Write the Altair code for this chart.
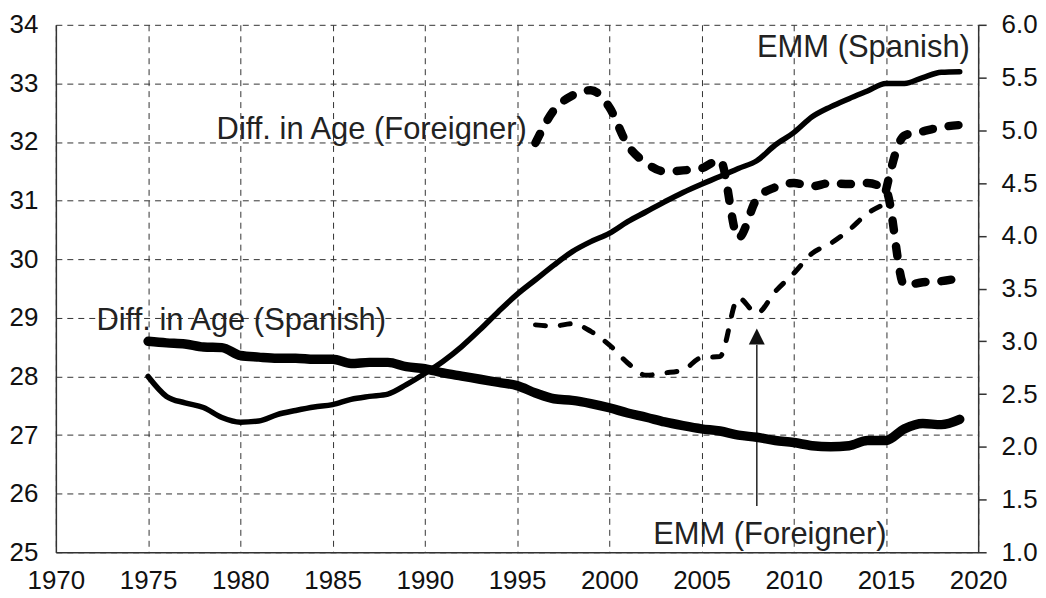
import altair as alt
import pandas as pd

# ---------------- data ----------------
years_sp = list(range(1975, 2020))
emm_spanish = [28.00, 27.66, 27.55, 27.47, 27.30, 27.22, 27.24, 27.35, 27.42, 27.48,
               27.52, 27.61, 27.66, 27.70, 27.86, 28.05, 28.26, 28.51, 28.80, 29.11,
               29.40, 29.65, 29.90, 30.13, 30.30, 30.44, 30.64, 30.81, 30.98, 31.14,
               31.28, 31.41, 31.55, 31.68, 31.95, 32.16, 32.43, 32.60, 32.74, 32.87,
               33.00, 33.00, 33.10, 33.19, 33.20]
diff_spanish = [3.00, 2.985, 2.975, 2.945, 2.94, 2.865, 2.85, 2.84, 2.84, 2.83,
                2.83, 2.79, 2.80, 2.80, 2.76, 2.74, 2.70, 2.67, 2.64, 2.61,
                2.58, 2.51, 2.455, 2.44, 2.41, 2.37, 2.32, 2.28, 2.235, 2.20,
                2.17, 2.15, 2.11, 2.09, 2.06, 2.04, 2.01, 2.00, 2.01, 2.06,
                2.06, 2.17, 2.22, 2.21, 2.26]

years_fo = list(range(1996, 2016))
emm_foreigner = [28.88, 28.86, 28.90, 28.77, 28.54, 28.23, 28.02, 28.06, 28.11, 28.32,
                 28.34, 29.34, 29.08, 29.45, 29.76, 30.10, 30.27, 30.50, 30.78, 30.95]

years_dfo = list(range(1996, 2020))
diff_foreigner = [4.88, 5.19, 5.33, 5.38, 5.22, 4.86, 4.69, 4.61, 4.62, 4.64,
                  4.72, 3.98, 4.35, 4.46, 4.50, 4.47, 4.50, 4.49, 4.50, 4.43,
                  3.53, 3.56, 3.57, 3.60]
years_dfo_b = [2015, 2016, 2017, 2018, 2019]
diff_foreigner_b = [4.43, 4.95, 4.99, 5.03, 5.05]

x_ticks = list(range(1970, 2021, 5))
left_ticks = list(range(25, 35))
right_ticks = [1.0, 1.5, 2.0, 2.5, 3.0, 3.5, 4.0, 4.5, 5.0, 5.5, 6.0]

labels_right = ["EMM (Spanish)", "Diff. in Age (Foreigner)"]
labels_right_x = [2019.55, 1995.53]
labels_right_y = [33.45, 32.06]
labels_left = ["Diff. in Age (Spanish)", "EMM (Foreigner)"]
labels_left_x = [1972.2, 2002.38]
labels_left_y = [28.79, 25.14]

arrow_x = [2008]
arrow_from = [25.79]
arrow_to = [28.54]
arrow_head = [28.68]

FONT = "Liberation Sans"
INK = "#000000"
GRID = "#333333"
TICK_FS = 26

# ---------------- encodings ----------------
x_enc = alt.X(
    "year:Q",
    scale=alt.Scale(domain=[1970, 2020], nice=False, zero=False),
    axis=alt.Axis(values=x_ticks, format="d", title=None, grid=True,
                  gridDash=[6, 5], gridColor=GRID, gridWidth=1, gridOpacity=1,
                  tickSize=0, labelPadding=15, labelFontSize=TICK_FS, labelFont=FONT,
                  labelColor="#111111", domainColor=GRID, domainWidth=1.5,
                  labelFlush=False),
)
y_left = alt.Y(
    "value:Q",
    scale=alt.Scale(domain=[25, 34], nice=False, zero=False),
    axis=alt.Axis(values=left_ticks, format="d", title=None, orient="left",
                  grid=True, gridDash=[6, 5], gridColor=GRID, gridWidth=1,
                  gridOpacity=1, tickSize=0, labelPadding=18, labelFontSize=TICK_FS,
                  labelFont=FONT, labelColor="#111111", domainColor=GRID,
                  domainWidth=1.5, labelFlush=False),
)
y_right = alt.Y(
    "value:Q",
    scale=alt.Scale(domain=[1, 6], nice=False, zero=False),
    axis=alt.Axis(values=right_ticks, format=".1f", title=None, orient="right",
                  grid=False, tickSize=8, tickColor=GRID, tickWidth=1.5,
                  labelPadding=15, labelFontSize=TICK_FS, labelFont=FONT,
                  labelColor="#111111", domainColor=GRID, domainWidth=1.5,
                  labelFlush=False),
)

df_emm_sp = pd.DataFrame({"year": years_sp, "value": emm_spanish})
df_diff_sp = pd.DataFrame({"year": years_sp, "value": diff_spanish})
df_emm_fo = pd.DataFrame({"year": years_fo, "value": emm_foreigner})
df_diff_fo = pd.DataFrame({"year": years_dfo, "value": diff_foreigner})
df_diff_fo_b = pd.DataFrame({"year": years_dfo_b, "value": diff_foreigner_b})
df_lab_r = pd.DataFrame({"year": labels_right_x, "value": labels_right_y, "label": labels_right})
df_lab_l = pd.DataFrame({"year": labels_left_x, "value": labels_left_y, "label": labels_left})
df_arrow = pd.DataFrame({"year": arrow_x, "value": arrow_from, "value2": arrow_to})
df_head = pd.DataFrame({"year": arrow_x, "value": arrow_head})

emm_sp_line = alt.Chart(df_emm_sp).mark_line(
    color=INK, strokeWidth=5.5, interpolate="monotone", strokeCap="round"
).encode(x=x_enc, y=y_left)

emm_fo_line = alt.Chart(df_emm_fo).mark_line(
    color=INK, strokeWidth=5, interpolate="monotone", strokeCap="round",
    strokeDash=[10, 15]
).encode(x=x_enc, y=y_left)

text_r = alt.Chart(df_lab_r).mark_text(
    align="right", baseline="alphabetic", font=FONT, fontSize=31, color="#222222"
).encode(x=x_enc, y=y_left, text="label:N")

text_l = alt.Chart(df_lab_l).mark_text(
    align="left", baseline="alphabetic", font=FONT, fontSize=31, color="#222222"
).encode(x=x_enc, y=y_left, text="label:N")

arrow_line = alt.Chart(df_arrow).mark_rule(color="#222222", strokeWidth=1.5).encode(
    x=x_enc, y=y_left, y2="value2:Q"
)
arrow_tip = alt.Chart(df_head).mark_point(
    shape="M0,-1L1,1L-1,1Z", filled=True, size=256, color="#111111", opacity=1
).encode(x=x_enc, y=y_left)

left_layer = alt.layer(emm_sp_line, emm_fo_line, arrow_line, arrow_tip, text_r, text_l)

diff_sp_line = alt.Chart(df_diff_sp).mark_line(
    color=INK, strokeWidth=9.5, interpolate="monotone", strokeCap="round"
).encode(x=x_enc, y=y_right)

diff_fo_line = alt.Chart(df_diff_fo).mark_line(
    color=INK, strokeWidth=8.5, interpolate="monotone", strokeCap="round",
    strokeDash=[10, 16]
).encode(x=x_enc, y=y_right)

diff_fo_line_b = alt.Chart(df_diff_fo_b).mark_line(
    color=INK, strokeWidth=8.5, interpolate="monotone", strokeCap="round",
    strokeDash=[10, 16]
).encode(x=x_enc, y=y_right)

right_layer = alt.layer(diff_sp_line, diff_fo_line, diff_fo_line_b)

chart = alt.layer(left_layer, right_layer).resolve_scale(y="independent").properties(
    width=925, height=529,
    autosize=alt.AutoSizeParams(type="none"),
    padding={"left": 48, "top": 16, "right": 60, "bottom": 45},
    background="white",
).configure_view(stroke=None)

chart.save("out.html", embed_options={"renderer": "svg", "actions": False})
